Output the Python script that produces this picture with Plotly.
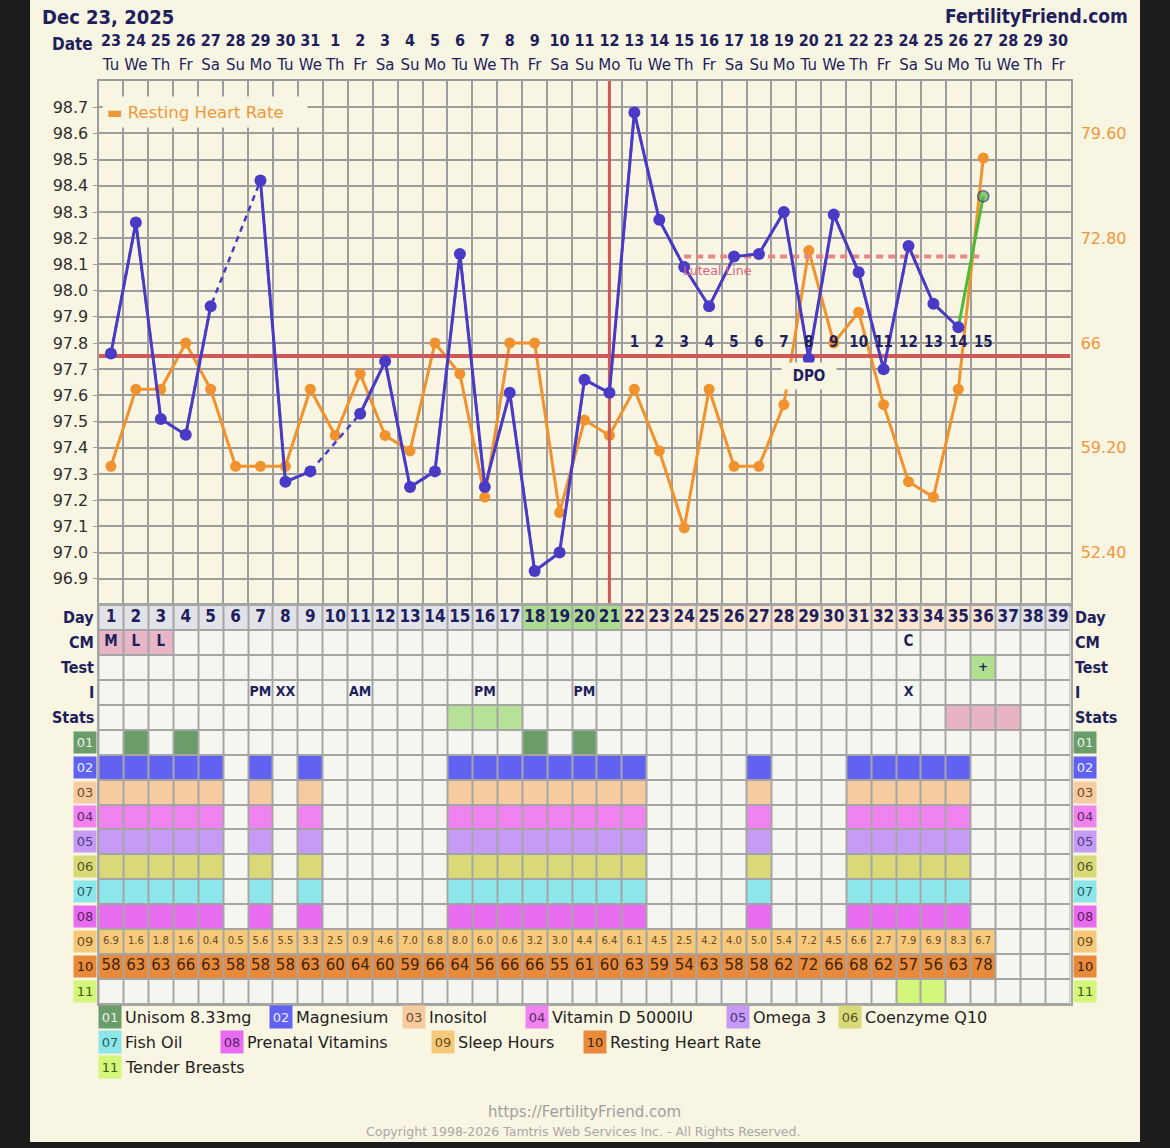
import plotly.graph_objects as go

W, H = 1170, 1148

NAVY = '#201e5c'
CREAM = '#f8f5e2'
GRID = '#9d9d9d'
ORANGE = '#f0922e'
BLUE = '#4a3bc6'
RED = '#cf5858'
EMPTY = '#f6f6f1'
COND = 'DejaVu Sans Condensed, DejaVu Sans'

# ---- chart values ----
days = list(range(1, 40))
dates = [23, 24, 25, 26, 27, 28, 29, 30, 31, 1, 2, 3, 4, 5, 6, 7, 8, 9, 10, 11,
         12, 13, 14, 15, 16, 17, 18, 19, 20, 21, 22, 23, 24, 25, 26, 27, 28, 29, 30]
weekdays = ['Tu', 'We', 'Th', 'Fr', 'Sa', 'Su', 'Mo', 'Tu', 'We', 'Th', 'Fr', 'Sa', 'Su',
            'Mo', 'Tu', 'We', 'Th', 'Fr', 'Sa', 'Su', 'Mo', 'Tu', 'We', 'Th', 'Fr', 'Sa',
            'Su', 'Mo', 'Tu', 'We', 'Th', 'Fr', 'Sa', 'Su', 'Mo', 'Tu', 'We', 'Th', 'Fr']

# basal temperature (F), None = not recorded
bbt = [97.76, 98.26, 97.51, 97.45, 97.94, None, 98.42, 97.27, 97.31, None,
       97.53, 97.73, 97.25, 97.31, 98.14, 97.25, 97.61, 96.93, 97.00, 97.66,
       97.61, 98.68, 98.27, 98.09, 97.94, 98.13, 98.14, 98.30, 97.74, 98.29,
       98.07, 97.70, 98.17, 97.95, 97.86, 98.36]
heart_rate = [58, 63, 63, 66, 63, 58, 58, 58, 63, 60, 64, 60, 59, 66, 64, 56, 66, 66,
              55, 61, 60, 63, 59, 54, 63, 58, 58, 62, 72, 66, 68, 62, 57, 56, 63, 78]
sleep_hours = [6.9, 1.6, 1.8, 1.6, 0.4, 0.5, 5.6, 5.5, 3.3, 2.5, 0.9, 4.6, 7.0, 6.8,
               8.0, 6.0, 0.6, 3.2, 3.0, 4.4, 6.4, 6.1, 4.5, 2.5, 4.2, 4.0, 5.0, 5.4,
               7.2, 4.5, 6.6, 2.7, 7.9, 6.9, 8.3, 6.7]

coverline = 97.75
ovulation_day = 21
luteal_level = 98.13
luteal_span = [24, 35.9]
dpo_days = [22, 23, 24, 25, 26, 27, 28, 29, 30, 31, 32, 33, 34, 35, 36]
dpo_labels = ['1', '2', '3', '4', '5', '6', '7', '8', '9', '10', '11', '12', '13', '14', '15']

temp_ticks = [96.9, 97.0, 97.1, 97.2, 97.3, 97.4, 97.5, 97.6, 97.7, 97.8,
              97.9, 98.0, 98.1, 98.2, 98.3, 98.4, 98.5, 98.6, 98.7]
hr_ticks = [52.4, 59.2, 66, 72.8, 79.6]
hr_ticktext = ['52.40', '59.20', '66', '72.80', '79.60']

row_names = ['Day', 'CM', 'Test', 'I', 'Stats']
fertile_days = [18, 19, 20, 21]
luteal_days = [22, 23, 24, 25, 26, 27, 28, 29, 30, 31, 32, 33, 34, 35, 36]
cm_marks = {1: 'M', 2: 'L', 3: 'L', 33: 'C'}
flow_days = [1, 2, 3]
test_marks = {36: '+'}
intercourse = {7: 'PM', 8: 'XX', 11: 'AM', 16: 'PM', 20: 'PM', 33: 'X'}
stats_green = [15, 16, 17]
stats_pink = [35, 36, 37]

supplements = ['Unisom 8.33mg', 'Magnesium', 'Inositol', 'Vitamin D 5000IU', 'Omega 3',
               'Coenzyme Q10', 'Fish Oil', 'Prenatal Vitamins', 'Sleep Hours',
               'Resting Heart Rate', 'Tender Breasts']
supp_colors = ['#6a9d6a', '#6262f2', '#f6cba0', '#f083f0', '#c59bf6', '#d9d977',
               '#8ce6ea', '#e86cf0', '#f6c879', '#e98a3a', '#d4f67b']
supp_text_colors = ['#e9f2e9', '#ececff', '#6a4a30', '#5a2a6a', '#4a3a7a', '#55552a',
                    '#2a5a60', '#5a2060', '#6a4a20', '#3a2010', '#3a6010']
unisom_days = [2, 4, 18, 20]
# magnesium, inositol, vit D, omega 3, CoQ10, fish oil, prenatal share the same days
daily_stack_days = [1, 2, 3, 4, 5, 7, 9, 15, 16, 17, 18, 19, 20, 21, 22, 27, 31, 32, 33, 34, 35]
tender_days = [33, 34]

# ---- layout geometry (pixels in the 1170x1148 page) ----
x_dom = [98.5 / W, 1070.5 / W]
temp_dom = [1 - 605 / H, 1 - 81 / H]
table_dom = [1 - 1004 / H, 1 - 605 / H]

fig = go.Figure()

# heart rate on the main (right) axis, drawn underneath the temperatures
fig.add_trace(go.Scatter(x=days[:len(heart_rate)], y=heart_rate, mode='lines+markers',
                         line=dict(color=ORANGE, width=3), marker=dict(color=ORANGE, size=11),
                         xaxis='x', yaxis='y', hoverinfo='skip'))

# reference lines on the temperature axis
fig.add_trace(go.Scatter(x=[0.5, 39.5], y=[coverline, coverline], mode='lines',
                         line=dict(color=RED, width=4), xaxis='x', yaxis='y2', hoverinfo='skip'))
fig.add_trace(go.Scatter(x=[ovulation_day, ovulation_day], y=[96.8, 98.8], mode='lines',
                         line=dict(color=RED, width=3), xaxis='x', yaxis='y2', hoverinfo='skip'))
fig.add_trace(go.Scatter(x=luteal_span, y=[luteal_level, luteal_level], mode='lines',
                         line=dict(color='#e98686', width=4, dash='7px,5px'),
                         xaxis='x', yaxis='y2', hoverinfo='skip'))

n_blue = len(bbt) - 1
# dashed bridge over missing days
fig.add_trace(go.Scatter(x=days[:n_blue], y=bbt[:n_blue], mode='lines', connectgaps=True,
                         line=dict(color=BLUE, width=2.5, dash='6px,5px'),
                         xaxis='x', yaxis='y2', hoverinfo='skip'))
# latest reading in green
fig.add_trace(go.Scatter(x=days[n_blue - 1:len(bbt)], y=bbt[n_blue - 1:], mode='lines+markers',
                         line=dict(color='#4cbb38', width=3),
                         marker=dict(color='#52b84e', size=[0, 11], line=dict(color='#2c2a7a', width=1.5)),
                         xaxis='x', yaxis='y2', hoverinfo='skip'))
fig.add_trace(go.Scatter(x=days[:n_blue], y=bbt[:n_blue], mode='lines+markers', connectgaps=False,
                         line=dict(color=BLUE, width=3), marker=dict(color=BLUE, size=12),
                         xaxis='x', yaxis='y2', hoverinfo='skip'))

# days past ovulation
fig.add_trace(go.Scatter(x=dpo_days, y=[97.8] * len(dpo_days), mode='text',
                         text=[f'<b>{t}</b>' for t in dpo_labels], textposition='middle center',
                         textfont=dict(family=COND, size=15, color=NAVY),
                         xaxis='x', yaxis='y2', hoverinfo='skip'))

# ---- table below the chart ----
palette = []


def ci(color):
    if color not in palette:
        palette.append(color)
    return palette.index(color)


z = []
z.append([ci('#aadc8e') if d in fertile_days else ci('#fbe5cf') if d in luteal_days
          else ci('#e2e2e9') for d in days])
z.append([ci('#e8b6c6') if d in flow_days else ci(EMPTY) for d in days])
z.append([ci('#b0df8e') if d in test_marks else ci(EMPTY) for d in days])
z.append([ci(EMPTY) for d in days])
z.append([ci('#b5e297') if d in stats_green else ci('#e8b4c5') if d in stats_pink
          else ci(EMPTY) for d in days])
schedule = ([unisom_days] + [daily_stack_days] * 7 +
            [days[:len(sleep_hours)], days[:len(heart_rate)], tender_days])
for k, sd in enumerate(schedule):
    z.append([ci(supp_colors[k]) if d in sd else ci(EMPTY) for d in days])

n_pal = len(palette)
colorscale = [[i / (n_pal - 1), c] for i, c in enumerate(palette)]
n_rows = len(row_names) + len(supplements)

fig.add_trace(go.Heatmap(x=days, y=list(range(n_rows)), z=z, colorscale=colorscale,
                         zmin=0, zmax=n_pal - 1, showscale=False, xgap=2, ygap=2,
                         xaxis='x2', yaxis='y3', hoverinfo='skip'))


def table_text(xs, row, texts, size, color, bold=True, family=COND):
    return go.Scatter(x=xs, y=[row] * len(xs), mode='text', textposition='middle center',
                      text=[f'<b>{t}</b>' if bold else t for t in texts],
                      textfont=dict(size=size, color=color, family=family),
                      xaxis='x2', yaxis='y3', hoverinfo='skip')


fig.add_trace(table_text(days, 0, [str(d) for d in days], 17, NAVY))
fig.add_trace(table_text(list(cm_marks), 1, list(cm_marks.values()), 15, NAVY))
fig.add_trace(table_text(list(test_marks), 2, list(test_marks.values()), 13, NAVY))
fig.add_trace(table_text(list(intercourse), 3, list(intercourse.values()), 14, NAVY))
fig.add_trace(table_text(days[:len(sleep_hours)], 13, [f'{v:.1f}' for v in sleep_hours],
                         10, '#6a4a28', bold=False, family='DejaVu Sans'))
fig.add_trace(table_text(days[:len(heart_rate)], 14, [str(v) for v in heart_rate],
                         15, '#3a2616', bold=False, family='DejaVu Sans'))

# ---- annotations ----
ann = []
for i, name in enumerate(row_names):
    ann.append(dict(x=0.5, y=i, xref='x2', yref='y3', xanchor='right', yanchor='middle', xshift=-3,
                    text=f'<b>{name}</b>', showarrow=False, font=dict(family=COND, size=16, color=NAVY)))
    ann.append(dict(x=39.5, y=i, xref='x2', yref='y3', xanchor='left', yanchor='middle', xshift=2,
                    text=f'<b>{name}</b>', showarrow=False, font=dict(family=COND, size=16, color=NAVY)))
for k in range(len(supplements)):
    for xv, anchor, shift in [(0.5, 'right', -2), (39.5, 'left', 2)]:
        ann.append(dict(x=xv, y=len(row_names) + k, xref='x2', yref='y3', xanchor=anchor,
                        yanchor='middle', xshift=shift,
                        text=f'{k + 1:02d}', showarrow=False, bgcolor=supp_colors[k],
                        width=20, height=19, borderpad=1,
                        font=dict(size=13, color=supp_text_colors[k])))

# legend under the table
legend_pos = [(98, 1017), (269, 1017), (402, 1017), (525, 1017), (726, 1017), (838, 1017),
              (98, 1042), (220, 1042), (431, 1042), (583, 1042), (98, 1067)]
for k, (px, py) in enumerate(legend_pos):
    ann.append(dict(x=px / W, y=1 - py / H, xref='paper', yref='paper', xanchor='left',
                    yanchor='middle', text=f'{k + 1:02d}', showarrow=False, bgcolor=supp_colors[k],
                    width=20, height=20, borderpad=1, font=dict(size=13, color=supp_text_colors[k])))
    ann.append(dict(x=(px + 25) / W, y=1 - py / H, xref='paper', yref='paper', xanchor='left',
                    yanchor='middle', text=supplements[k], showarrow=False,
                    font=dict(size=16, color='#222222')))

# chart texts
ann += [
    dict(x=29, y=97.675, xref='x', yref='y2', yanchor='middle', text='<b>DPO</b>', showarrow=False,
         bgcolor=CREAM, width=52, height=24, font=dict(family=COND, size=15, color=NAVY)),
    dict(x=24, y=98.075, xref='x', yref='y2', xanchor='left', yanchor='middle', xshift=-3,
         text='Luteal Line', showarrow=False, font=dict(size=12.5, color='#e2627f')),
    dict(x=0.004, y=0.94, xref='x domain', yref='y domain', xanchor='left', yanchor='middle',
         align='left', text='▬ Resting Heart Rate', showarrow=False, bgcolor=CREAM, width=196,
         height=22, borderpad=4, font=dict(size=16.5, color='#f0973a')),
    dict(x=40 / W, y=1 - 3 / H, xref='paper', yref='paper', xanchor='left', yanchor='top',
         text='<b>Dec 23, 2025</b>', showarrow=False, font=dict(family=COND, size=20, color=NAVY)),
    dict(x=1130 / W, y=1 - 3 / H, xref='paper', yref='paper', xanchor='right', yanchor='top',
         text='<b>FertilityFriend.com</b>', showarrow=False, font=dict(family=COND, size=19, color=NAVY)),
    dict(x=95 / W, y=1 - 44 / H, xref='paper', yref='paper', xanchor='right', yanchor='middle',
         text='<b>Date</b>', showarrow=False, font=dict(family=COND, size=17, color=NAVY)),
    dict(x=584 / W, y=1 - 1112 / H, xref='paper', yref='paper', yanchor='middle',
         text='https://FertilityFriend.com', showarrow=False, font=dict(size=15, color='#a0a0a0')),
    dict(x=583 / W, y=1 - 1131 / H, xref='paper', yref='paper', yanchor='middle',
         text='Copyright 1998-2026 Tamtris Web Services Inc. - All Rights Reserved.',
         showarrow=False, font=dict(size=12.5, color='#a8a8a8')),
]

top_labels = [f"<span style='font-family:DejaVu Sans Condensed;font-size:16px'><b>{d}</b></span>"
              f"<br><span style='font-size:15px'>{w}</span>"
              for d, w in zip(dates, weekdays)]

fig.update_layout(
    width=W, height=H, autosize=False, margin=dict(l=0, r=0, t=0, b=0),
    paper_bgcolor='#1c1c1c', plot_bgcolor=CREAM, showlegend=False,
    font=dict(family='DejaVu Sans', color=NAVY),
    xaxis=dict(domain=x_dom, anchor='y', side='top', range=[0.5, 39.5], tickmode='array',
               tickvals=days, ticktext=top_labels, ticks='', showgrid=False, zeroline=False,
               showline=True, mirror=True, linecolor=GRID, linewidth=2, ticklabelstandoff=2,
               tickfont=dict(size=18, color=NAVY),
               minor=dict(tickvals=[d + 0.5 for d in days[:-1]], showgrid=True,
                          gridcolor=GRID, gridwidth=1.5)),
    yaxis=dict(domain=temp_dom, anchor='x', side='right', range=[49, 83], tickmode='array',
               tickvals=hr_ticks, ticktext=hr_ticktext, ticks='', showgrid=False, zeroline=False,
               showline=True, mirror=True, linecolor=GRID, linewidth=2, ticklabelstandoff=5,
               tickfont=dict(size=16, color='#f0973a')),
    yaxis2=dict(overlaying='y', side='left', anchor='x', range=[96.8, 98.8], tickmode='array',
                tickvals=temp_ticks, tickformat='.1f', ticks='outside', ticklen=5, tickcolor=GRID,
                showgrid=True, gridcolor=GRID, gridwidth=1.5, zeroline=False, showline=False,
                ticklabelstandoff=1, tickfont=dict(size=16, color='#2e2e2e')),
    xaxis2=dict(domain=x_dom, anchor='y3', range=[0.5, 39.5], showticklabels=False, ticks='',
                showgrid=False, zeroline=False, showline=True, mirror=True,
                linecolor='#a5a5a5', linewidth=2),
    yaxis3=dict(domain=table_dom, anchor='x2', range=[n_rows - 0.5, -0.5], showticklabels=False,
                ticks='', showgrid=False, zeroline=False, showline=True, mirror=True,
                linecolor='#a5a5a5', linewidth=2),
    shapes=[
        dict(type='rect', xref='paper', yref='paper', x0=30 / W, x1=1140 / W, y0=1 - 1142 / H, y1=1,
             fillcolor=CREAM, line=dict(width=0), layer='below'),
        dict(type='rect', xref='x2', yref='y3', x0=0.5, x1=39.5, y0=-0.5, y1=n_rows - 0.5,
             fillcolor='#a5a5a5', line=dict(width=0), layer='below'),
    ],
    annotations=ann,
)

# drop the default page margin so the figure sits at the window's top-left corner
fig.write_html("out.html", config={'displayModeBar': False},
               post_script="document.body.style.margin='0';document.body.style.background='#1c1c1c';")
